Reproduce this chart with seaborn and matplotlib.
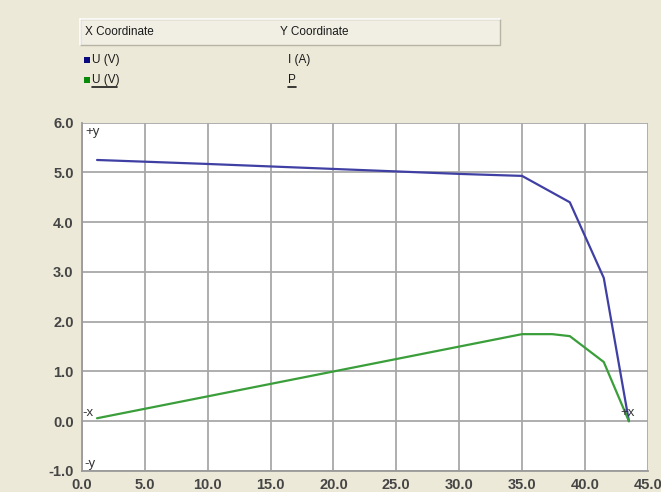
import matplotlib
matplotlib.use("Agg")
import matplotlib.pyplot as plt
from matplotlib.patches import Rectangle
import seaborn as sns
import pandas as pd

# Measured module characteristic: voltage U (V), current I (A), power P (scaled)
u_current = [1.2, 10.0, 20.0, 30.0, 35.0, 38.8, 41.5, 43.5]
i_current = [5.25, 5.17, 5.07, 4.97, 4.93, 4.40, 2.88, 0.0]

u_power = [1.2, 35.0, 37.4, 38.8, 41.5, 43.5]
p_power = [0.06, 1.75, 1.75, 1.71, 1.19, 0.0]

x_ticks = [0, 5, 10, 15, 20, 25, 30, 35, 40, 45]
y_ticks = [-1, 0, 1, 2, 3, 4, 5, 6]

header_cols = ["X Coordinate", "Y Coordinate"]
series_rows = [("U (V)", "I (A)", "#0a0a80"), ("U (V)", "P", "#0a8a0a")]

BG = "#ECE9D8"
GRID = "#A8A8A8"

sns.set_theme(style="whitegrid")
plt.rcParams["font.family"] = ["DejaVu Sans"]

fig = plt.figure(figsize=(6.61, 4.92), dpi=100, facecolor=BG)
ax = fig.add_axes([0.124, 0.0427, 0.856, 0.708])
ax.set_facecolor("white")

df_i = pd.DataFrame({"U": u_current, "val": i_current})
df_p = pd.DataFrame({"U": u_power, "val": p_power})
sns.lineplot(data=df_i, x="U", y="val", ax=ax, color="#4040A4", lw=1.6,
             sort=False, estimator=None)
sns.lineplot(data=df_p, x="U", y="val", ax=ax, color="#3A9E3A", lw=1.6,
             sort=False, estimator=None)

ax.set_xlim(0, 45)
ax.set_ylim(-1, 6)
ax.set_xticks(x_ticks)
ax.set_yticks(y_ticks)
ax.set_xticklabels([f"{v:.1f}" for v in x_ticks])
ax.set_yticklabels([f"{v:.1f}" for v in y_ticks])
ax.set_xlabel("")
ax.set_ylabel("")
ax.grid(True, color=GRID, lw=1.3)
ax.set_axisbelow(True)
for side in ["top", "right"]:
    ax.spines[side].set_visible(False)
for side in ["left", "bottom"]:
    ax.spines[side].set_color("#9A9A9A")
    ax.spines[side].set_linewidth(1.3)
ax.tick_params(axis="both", which="both", length=5, width=1.2, color="#707070",
               labelsize=10.5, labelcolor="#454545", pad=1)
ax.tick_params(axis="x", pad=0)
for lbl in ax.get_xticklabels() + ax.get_yticklabels():
    lbl.set_fontweight("bold")
    lbl.set_fontfamily("Liberation Sans")

# Axis direction markers
marker_kw = dict(fontsize=9.5, color="#333333", family="Liberation Sans")
ax.text(0.3, 5.82, "+y", ha="left", va="center", **marker_kw)
ax.text(0.0, 0.17, "-x", ha="left", va="center", **marker_kw)
ax.text(0.2, -0.86, "-y", ha="left", va="center", **marker_kw)
ax.text(43.4, 0.17, "+x", ha="center", va="center", **marker_kw)

# Series header table above the plot
W, H = 661, 492
def fx(px):
    return px / W
def fy(py):
    return 1 - py / H

box = Rectangle((fx(80), fy(45)), fx(500) - fx(80), fy(19) - fy(45),
                transform=fig.transFigure, facecolor="#F1EFE4",
                edgecolor="#B8B4A4", lw=1.0)
fig.patches.append(box)
fig.add_artist(plt.Line2D([fx(80), fx(500)], [fy(19), fy(19)],
                          transform=fig.transFigure, color="white", lw=1.2))
fig.add_artist(plt.Line2D([fx(80), fx(80)], [fy(19), fy(45)],
                          transform=fig.transFigure, color="white", lw=1.2))

txt_kw = dict(fontsize=8.5, color="#1a1a1a", family="Liberation Sans",
              va="center", ha="left")
fig.text(fx(85), fy(32), header_cols[0], **txt_kw)
fig.text(fx(280), fy(32), header_cols[1], **txt_kw)

row_y = [60, 80]
for (xname, yname, col), ry in zip(series_rows, row_y):
    fig.patches.append(Rectangle((fx(84), fy(ry + 3)), fx(6), fy(ry - 3) - fy(ry + 3),
                                 transform=fig.transFigure, facecolor=col,
                                 edgecolor="none"))
    fig.text(fx(92), fy(ry), xname, **txt_kw)
    fig.text(fx(288), fy(ry), yname, **txt_kw)

# underline the selected (second) row
fig.add_artist(plt.Line2D([fx(92), fx(117)], [fy(87), fy(87)],
                          transform=fig.transFigure, color="#1a1a1a", lw=1.2))
fig.add_artist(plt.Line2D([fx(288), fx(296)], [fy(87), fy(87)],
                          transform=fig.transFigure, color="#1a1a1a", lw=1.2))

fig.savefig("out.png", dpi=100, facecolor=BG)
